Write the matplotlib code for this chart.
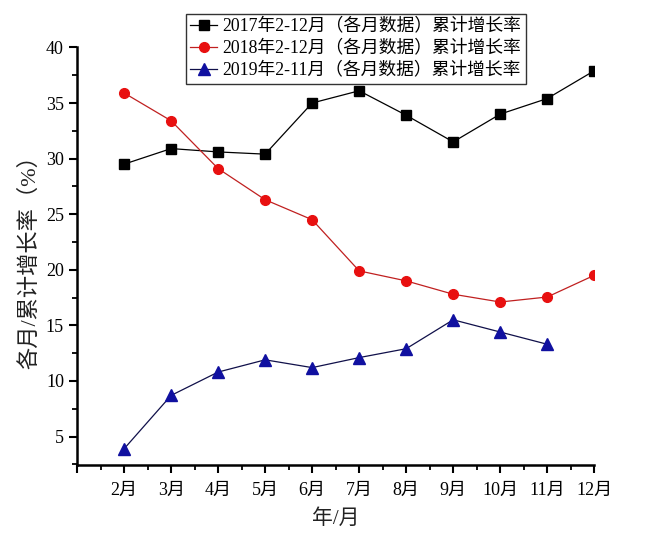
import numpy as np
import matplotlib.pyplot as plt
from matplotlib.ticker import MultipleLocator

plt.rcParams['font.family'] = ['Liberation Serif', 'Noto Sans CJK SC']

months = [2, 3, 4, 5, 6, 7, 8, 9, 10, 11, 12]
month_labels = ['', '2月', '3月', '4月', '5月', '6月', '7月', '8月', '9月', '10月', '11月', '12月']

rate_2017 = [29.5, 30.9, 30.6, 30.4, 35.0, 36.1, 33.9, 31.5, 34.0, 35.4, 37.9]
rate_2018 = [35.9, 33.4, 29.1, 26.3, 24.5, 19.9, 19.0, 17.8, 17.1, 17.55, 19.5]
months_2019 = [2, 3, 4, 5, 6, 7, 8, 9, 10, 11]
rate_2019 = [3.9, 8.7, 10.8, 11.9, 11.2, 12.1, 12.9, 15.5, 14.4, 13.3]

fig = plt.figure(figsize=(6.48, 5.45), dpi=100)
ax = fig.add_axes([0.119, 0.147, 0.798, 0.766])

ax.plot(months, rate_2017, color='black', lw=0.9, marker='s', ms=7,
        mfc='black', mec='black', label='2017年2-12月（各月数据）累计增长率')
ax.plot(months, rate_2018, color='#c02020', lw=0.9, marker='o', ms=7,
        mfc='#e81010', mec='#e81010', label='2018年2-12月（各月数据）累计增长率')
ax.plot(months_2019, rate_2019, color='#10104a', lw=0.9, marker='^', ms=8,
        mfc='#1010a0', mec='#1010a0', label='2019年2-11月（各月数据）累计增长率')

ax.set_xlim(1, 12)
ax.set_ylim(2.45, 40)
ax.set_xticks(range(1, 13))
ax.set_xticklabels(month_labels)
ax.xaxis.set_minor_locator(MultipleLocator(0.5))
ax.set_yticks(range(5, 41, 5))
ax.yaxis.set_minor_locator(MultipleLocator(2.5))

for side in ['top', 'right']:
    ax.spines[side].set_visible(False)
for side in ['left', 'bottom']:
    ax.spines[side].set_linewidth(1.8)

ax.tick_params(which='major', direction='out', length=6, width=1.5, labelsize=13)
ax.tick_params(axis='x', which='major', pad=6)
ax.tick_params(which='minor', direction='out', length=3.5, width=1.3)

ax.set_xlabel('年/月', fontsize=15, labelpad=8, color='#222222')
ax.set_ylabel('各月/累计增长率（%）', fontsize=16, labelpad=4, color='#222222')

leg = ax.legend(loc='upper left', bbox_to_anchor=(186 / 648, 1 - 14 / 545),
                bbox_transform=fig.transFigure, fontsize=12.8, frameon=True,
                fancybox=False, edgecolor='black', borderpad=0.25,
                labelspacing=0.28, handlelength=1.5, handletextpad=0.3,
                borderaxespad=0)
leg.get_frame().set_linewidth(1.0)

fig.savefig('out.png', dpi=100)
